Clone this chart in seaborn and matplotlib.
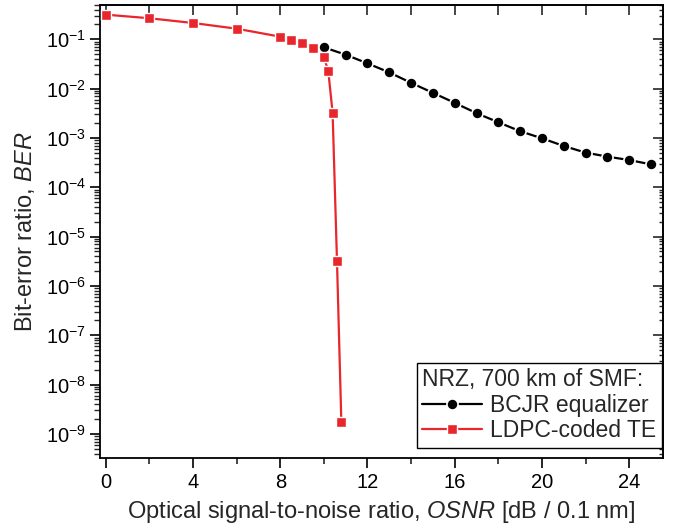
import numpy as np
import pandas as pd
import matplotlib
matplotlib.use("Agg")
import matplotlib.pyplot as plt
import seaborn as sns
from matplotlib.ticker import LogLocator, MultipleLocator, NullFormatter

# Data
bcjr_osnr = [10, 11, 12, 13, 14, 15, 16, 17, 18, 19, 20, 21, 22, 23, 24, 25]
bcjr_ber = [0.0687, 0.0487, 0.0325, 0.0213, 0.0131, 0.00822, 0.00515, 0.00318,
            0.00208, 0.00137, 9.85e-4, 6.88e-4, 5.05e-4, 4.19e-4, 3.57e-4, 2.92e-4]
ldpc_osnr = [0, 2, 4, 6, 8, 8.5, 9, 9.5, 10, 10.2, 10.4, 10.6, 10.8]
ldpc_ber = [0.316, 0.267, 0.214, 0.164, 0.113, 0.0968, 0.083, 0.0675, 0.043,
            0.023, 0.00324, 3.27e-6, 1.77e-9]
x_ticks = [0, 4, 8, 12, 16, 20, 24]
legend_title = "NRZ, 700 km of SMF:"
series_names = ["BCJR equalizer", "LDPC-coded TE"]

sns.set_theme(style="ticks")
plt.rcParams["font.family"] = ["Liberation Sans", "DejaVu Sans"]
plt.rcParams["mathtext.fontset"] = "custom"
plt.rcParams["mathtext.rm"] = "Liberation Sans"
plt.rcParams["mathtext.it"] = "Liberation Sans:italic"
plt.rcParams["mathtext.default"] = "regular"

red = "#E8262B"

fig = plt.figure(figsize=(6.82, 5.31), dpi=100)
ax = fig.add_axes([0.1466, 0.138, 0.9717 - 0.1466, 0.9915 - 0.138])

df_b = pd.DataFrame({"x": bcjr_osnr, "y": bcjr_ber})
df_l = pd.DataFrame({"x": ldpc_osnr, "y": ldpc_ber})

sns.lineplot(data=df_b, x="x", y="y", ax=ax, color="black", marker="o",
             markersize=8, markeredgecolor="white", markeredgewidth=1.2,
             linewidth=1.6, label=series_names[0], zorder=3)
sns.lineplot(data=df_l, x="x", y="y", ax=ax, color=red, marker="s",
             markersize=7.5, markeredgecolor="white", markeredgewidth=1.0,
             linewidth=1.6, label=series_names[1], zorder=4)

ax.set_yscale("log")
ax.set_xlim(-0.27, 25.54)
ax.set_ylim(3.3e-10, 0.507)

ax.xaxis.set_major_locator(matplotlib.ticker.FixedLocator(x_ticks))
ax.xaxis.set_minor_locator(MultipleLocator(2))
ax.yaxis.set_major_locator(LogLocator(base=10, numticks=20))
ax.yaxis.set_minor_locator(LogLocator(base=10, subs=np.arange(2, 10), numticks=20))
ax.yaxis.set_minor_formatter(NullFormatter())

for side in ["left", "right", "top", "bottom"]:
    ax.spines[side].set_visible(True)
    ax.spines[side].set_linewidth(1.3)
    ax.spines[side].set_color("black")

ax.tick_params(axis="x", which="major", direction="out", length=7, width=1.2,
               labelsize=14.5, pad=4, top=False, colors="black")
ax.tick_params(axis="x", which="minor", direction="out", length=4, width=1.2, top=False)
ax.tick_params(axis="y", which="major", direction="out", length=7, width=1.2,
               labelsize=14.5, pad=3, right=False, colors="black")
ax.tick_params(axis="y", which="minor", direction="out", length=4, width=1.0, right=False)

# mirrored inward ticks on top and right
sec_x = ax.secondary_xaxis("top")
sec_x.xaxis.set_major_locator(MultipleLocator(2))
sec_x.tick_params(direction="in", length=7, width=1.2, labeltop=False)
sec_y = ax.secondary_yaxis("right")
sec_y.yaxis.set_major_locator(LogLocator(base=10, numticks=20))
sec_y.yaxis.set_minor_locator(LogLocator(base=10, subs=np.arange(2, 10), numticks=20))
sec_y.tick_params(which="major", direction="in", length=7, width=1.2, labelright=False)
sec_y.tick_params(which="minor", direction="in", length=3, width=1.0, labelright=False)
sec_y.yaxis.set_minor_formatter(NullFormatter())

ax.set_xlabel(r"Optical signal-to-noise ratio, $\mathit{OSNR}$ [dB / 0.1 nm]",
              fontsize=17, labelpad=5)
ax.set_ylabel(r"Bit-error ratio, $\mathit{BER}$", fontsize=17, labelpad=6)

leg = ax.legend(title=legend_title, loc="lower right", fontsize=16.5,
                title_fontsize=16.5, frameon=True, fancybox=False,
                edgecolor="black", framealpha=1, borderpad=0.25,
                handlelength=2.6, handletextpad=0.35, labelspacing=0.1,
                alignment="left", bbox_to_anchor=(0.9985, 0.022),
                borderaxespad=0)
leg.get_frame().set_linewidth(1.0)

fig.savefig("out.png", dpi=100)
